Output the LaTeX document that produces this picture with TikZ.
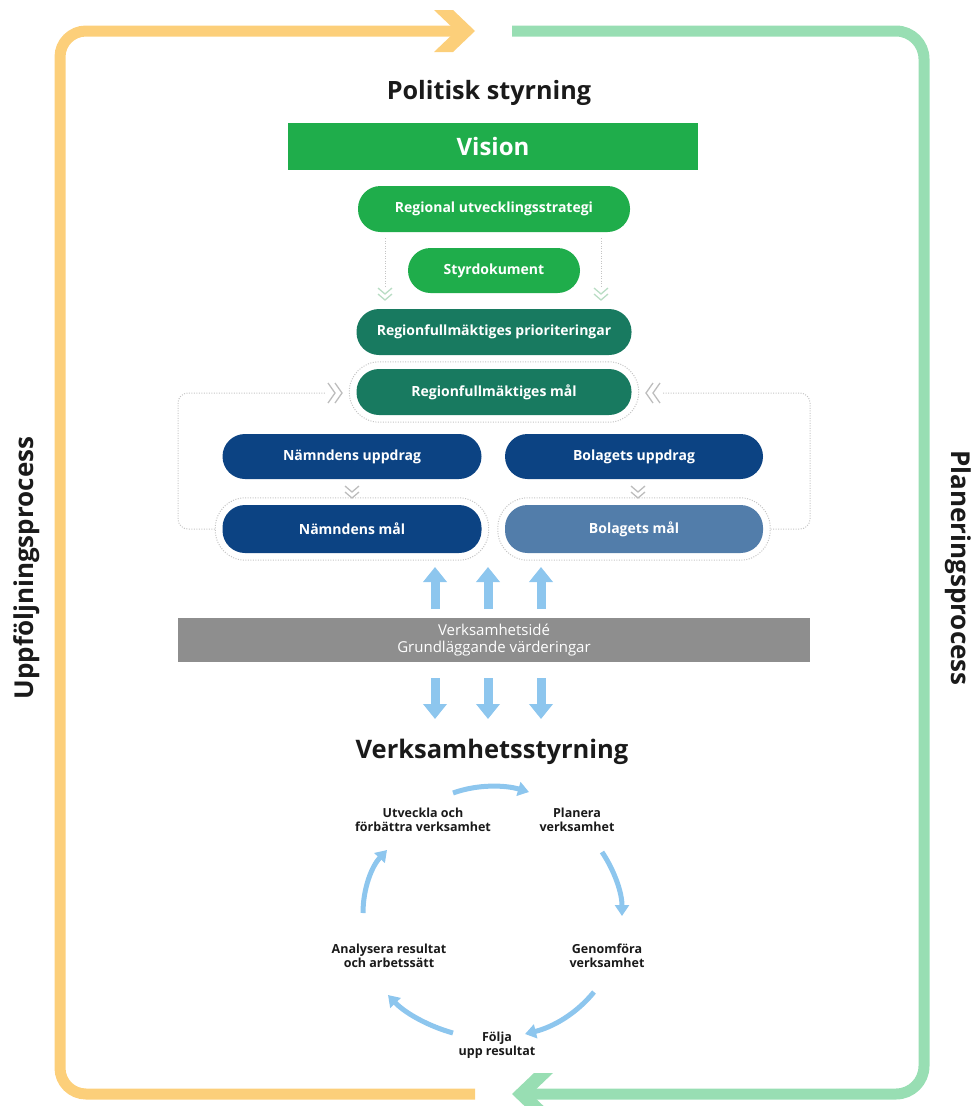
\documentclass[tikz,border=0pt]{standalone}
\usepackage{fontspec}
\setmainfont{Open Sans}
\usetikzlibrary{arrows.meta,fit,calc}
\definecolor{frameorange}{HTML}{FCCF7A}
\definecolor{framegreen}{HTML}{98DEB3}
\definecolor{brightgreen}{HTML}{1FAD4B}
\definecolor{tealgreen}{HTML}{187A60}
\definecolor{darkblue}{HTML}{0C4383}
\definecolor{midblue}{HTML}{527DAA}
\definecolor{bargray}{HTML}{8E8E8E}
\definecolor{arrowblue}{HTML}{8DC6EE}
\definecolor{dotgray}{HTML}{C4C4C4}
\definecolor{chevgreen}{HTML}{B9DDC4}
\definecolor{chevgray}{HTML}{BDBDBD}
\definecolor{textblack}{HTML}{1A1A1A}
\tikzset{
  pill/.style={rectangle, rounded corners=22.5pt, minimum height=45pt, text=white,
    font=\bfseries\fontsize{14}{16}\selectfont, inner sep=0pt},
  pillgreen/.style={pill, fill=brightgreen},
  pillteal/.style={pill, fill=tealgreen},
  pillblue/.style={pill, fill=darkblue},
  pilllight/.style={pill, fill=midblue},
  outline/.style={draw=dotgray, line width=1pt, dash pattern=on 1pt off 1.5pt,
    rectangle, rounded corners=30pt, inner sep=7pt},
  dotline/.style={draw=dotgray, line width=1pt, dash pattern=on 1pt off 1.5pt},
  heading/.style={text=textblack, font=\bfseries\fontsize{26}{30}\selectfont, inner sep=0pt},
  cyclabel/.style={text=textblack, font=\bfseries\fontsize{12.5}{14.5}\selectfont, align=center, inner sep=0pt},
  frameline/.style={line width=11pt},
  bigarrow/.style={draw=arrowblue, line width=9pt, -{Triangle[length=15pt,width=23pt]}},
  cycarrow/.style={draw=arrowblue, line width=5pt, -{Triangle[length=11pt,width=14pt]}},
  dchev/.pic={\draw[line width=1.3pt, pic actions] (-7,0) -- (0,6) -- (7,0) (-7,6) -- (0,12) -- (7,6);},
  hchev/.pic={\draw[line width=1.3pt, pic actions] (-10,0) -- (0,7) -- (10,0) (-10,7) -- (0,14) -- (10,7);}
}
\begin{document}
\begin{tikzpicture}[x=1pt,y=-1pt]
\useasboundingbox (0,0) rectangle (977,1106);
% frame
\draw[frameline, draw=frameorange, rounded corners=26pt] (475,1094) -- (60,1094) -- (60,31) -- (458,31);
\fill[frameorange] (434,10) -- (453,10) -- (475,31) -- (453,52) -- (434,52) -- (456,31) -- cycle;
\draw[frameline, draw=framegreen, rounded corners=28pt] (512,31) -- (924,31) -- (924,1094) -- (530,1094);
\fill[framegreen] (553,1073) -- (534,1073) -- (512,1094) -- (534,1115) -- (553,1115) -- (531,1094) -- cycle;
\node[heading, rotate=90] (upp) at (27,568) {Uppföljningsprocess};
\node[heading, rotate=-90] (plan) at (958,568) {Planeringsprocess};
% top
\node[heading, font=\bfseries\fontsize{25.2}{30}\selectfont] (pol) at (489,93) {Politisk styrning};
\node[fill=brightgreen, minimum width=410pt, minimum height=47pt, inner sep=0pt, text=white,
  font=\bfseries\fontsize{24}{28}\selectfont] (vision) at (493,146.5) {Vision};
\node[pillgreen, minimum width=272pt, minimum height=46pt] (rus) at (494,209) {Regional utvecklingsstrategi};
\node[pillgreen, minimum width=172pt] (styr) at (494,270.5) {Styrdokument};
\node[pillteal, minimum width=275pt, minimum height=46pt] (rfp) at (494,332) {Regionfullmäktiges prioriteringar};
\node[pillteal, minimum width=275pt, minimum height=46pt] (rfm) at (494,392) {Regionfullmäktiges mål};
\node[outline, fit=(rfm)] (rfmo) {};
\coordinate (vl1) at (385,238);
\coordinate (vl1e) at (385,286);
\coordinate (vl2) at (601,238);
\coordinate (vl2e) at (601,286);
\draw[dotline] (vl1) -- (vl1e);
\draw[dotline] (vl2) -- (vl2e);
\pic[draw=chevgreen] at (385,288) {dchev};
\pic[draw=chevgreen] at (601,288) {dchev};
% nämnd / bolag
\node[pillblue, minimum width=259pt] (nu) at (352,456.5) {Nämndens uppdrag};
\node[pillblue, minimum width=259pt, minimum height=48pt] (nm) at (352,529) {Nämndens mål};
\node[pillblue, minimum width=258pt] (bu) at (634,456.5) {Bolagets uppdrag};
\node[pilllight, minimum width=258pt, minimum height=48pt] (bm) at (634,529) {Bolagets mål};
\node[outline, fit=(nm)] (nmo) {};
\node[outline, fit=(bm)] (bmo) {};
\pic[draw=chevgray] at (352,486) {dchev};
\pic[draw=chevgray] at (638,486) {dchev};
\coordinate (chl) at (326,393);
\coordinate (chr) at (662,393);
\draw[dotline, rounded corners=10pt] (nmo.west) -| (178,393) -- (chl);
\draw[dotline, rounded corners=10pt] (bmo.east) -| (810,393) -- (chr);
\pic[draw=chevgray, rotate=90] at (328,393) {hchev};
\pic[draw=chevgray, rotate=-90] at (660,393) {hchev};
% bar
\node[fill=bargray, minimum width=632pt, minimum height=44pt, inner sep=0pt, text=white, align=center,
  font=\fontsize{15}{17.5}\selectfont] (bar) at (494,640) {Verksamhetsidé\\Grundläggande värderingar};
\foreach \x/\n in {435/a, 488/b, 541/c}{
  \coordinate (up\n s) at (\x,609);
  \coordinate (up\n e) at (\x,567);
  \draw[bigarrow] (up\n s) -- (up\n e);
  \coordinate (dn\n s) at (\x,678);
  \coordinate (dn\n e) at (\x,719);
  \draw[bigarrow] (dn\n s) -- (dn\n e);
}
% cycle
\node[text=textblack, font=\bfseries\fontsize{25.5}{30}\selectfont, inner sep=0pt] (vs) at (492,752) {Verksamhetsstyrning};
\node[cyclabel] (utv) at (423,820) {Utveckla och\\förbättra verksamhet};
\node[cyclabel] (pla) at (577,820) {Planera\\verksamhet};
\node[cyclabel] (gen) at (607,956) {Genomföra\\verksamhet};
\node[cyclabel] (ana) at (389,956) {Analysera resultat\\och arbetssätt};
\node[cyclabel] (fol) at (497,1045) {Följa\\upp resultat};
\coordinate (c1s) at (453,793); \coordinate (c1e) at (529,792);
\coordinate (c2s) at (602,852); \coordinate (c2e) at (622,916);
\coordinate (c3s) at (594,992); \coordinate (c3e) at (525,1034);
\coordinate (c4s) at (453,1033); \coordinate (c4e) at (388,995);
\coordinate (c5s) at (363,913); \coordinate (c5e) at (387,850);
\draw[cycarrow] (c1s) .. controls (478,784) and (505,785) .. (c1e);
\draw[cycarrow] (c2s) .. controls (614,870) and (622,892) .. (c2e);
\draw[cycarrow] (c3s) .. controls (576,1014) and (553,1027) .. (c3e);
\draw[cycarrow] (c4s) .. controls (428,1026) and (405,1013) .. (c4e);
\draw[cycarrow] (c5s) .. controls (363,888) and (372,866) .. (c5e);
\end{tikzpicture}
\end{document}
